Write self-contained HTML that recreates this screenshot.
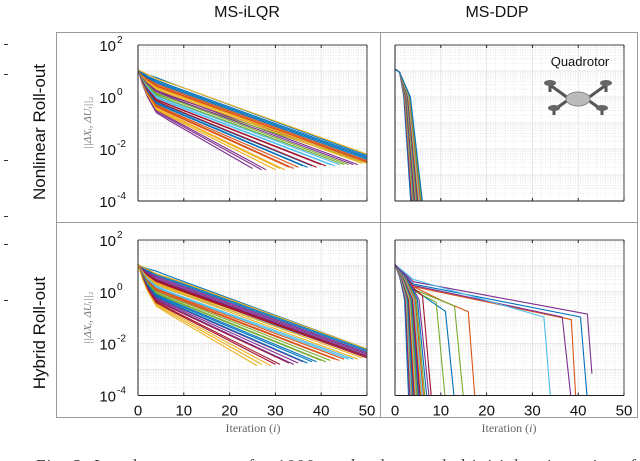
<!DOCTYPE html>
<html><head><meta charset="utf-8"><style>
html,body{margin:0;padding:0;background:#fff;}
svg{display:block;font-family:"Liberation Sans",sans-serif;}
</style></head><body>
<svg id="fig" width="640" height="461" viewBox="0 0 640 461" xmlns="http://www.w3.org/2000/svg">
<text x="247" y="17" font-size="16" text-anchor="middle" fill="#111">MS-iLQR</text>
<text x="497" y="17" font-size="16" text-anchor="middle" fill="#111">MS-DDP</text>
<text transform="translate(45,132) rotate(-90)" font-size="17" text-anchor="middle" fill="#111">Nonlinear Roll-out</text>
<text transform="translate(45,333) rotate(-90)" font-size="17" text-anchor="middle" fill="#111">Hybrid Roll-out</text>
<g fill="none" stroke="#9a9a9a" stroke-width="1">
<rect x="56.5" y="32.5" width="581" height="385"/>
<line x1="380.5" y1="32" x2="380.5" y2="418"/>
<line x1="56" y1="222.5" x2="638" y2="222.5"/>
</g>
<g stroke="#333" stroke-width="1">
<line x1="4" y1="44.5" x2="8" y2="44.5"/><line x1="4" y1="74.5" x2="8" y2="74.5"/>
<line x1="4" y1="160.5" x2="8" y2="160.5"/><line x1="4" y1="216.5" x2="8" y2="216.5"/>
<line x1="4" y1="244.5" x2="8" y2="244.5"/><line x1="4" y1="300.5" x2="8" y2="300.5"/>
</g>
<g id="panels"></g>
<text x="580" y="66" font-size="13" text-anchor="middle" fill="#111">Quadrotor</text>
<g transform="translate(578,98)">
<g stroke="#555" stroke-width="3" fill="none"><line x1="-28" y1="-13" x2="-10" y2="0"/><line x1="28" y1="-13" x2="10" y2="0"/><line x1="-24" y1="12" x2="-10" y2="2"/><line x1="24" y1="12" x2="10" y2="2"/>
<line x1="-28" y1="-13" x2="-28" y2="-6"/><line x1="28" y1="-13" x2="28" y2="-6"/><line x1="-24" y1="12" x2="-24" y2="17"/><line x1="24" y1="12" x2="24" y2="17"/></g>
<ellipse cx="-28" cy="-15" rx="6" ry="3" fill="#666"/><ellipse cx="28" cy="-15" rx="6" ry="3" fill="#666"/>
<ellipse cx="-24" cy="10" rx="6" ry="3" fill="#666"/><ellipse cx="24" cy="10" rx="6" ry="3" fill="#666"/>
<ellipse cx="0" cy="1" rx="12" ry="7" fill="#bbb" stroke="#888"/>
</g>
<text x="253" y="432" font-size="12" font-family="Liberation Serif,serif" text-anchor="middle" fill="#666">Iteration (<tspan font-style="italic">i</tspan>)</text>
<text x="509" y="432" font-size="12" font-family="Liberation Serif,serif" text-anchor="middle" fill="#666">Iteration (<tspan font-style="italic">i</tspan>)</text>
<text x="36" y="471" font-size="17" font-family="Liberation Serif,serif" fill="#333" textLength="600">Fig. 3: Local convergence for 1000 randomly sampled initial trajectories of</text>
</svg>
<script>
const xTicks=[0,10,20,30,40,50];
const yTickExp=[2,0,-2,-4];
const colors=['#0072BD','#D95319','#EDB120','#7E2F8E','#77AC30','#4DBEEE','#A2142F'];
// left panels: knee log-value at iteration 4, end iteration, end log-value
const TL_knee=[0.75,0.65,0.6,0.55,0.5,0.45,0.42,0.38,0.35,0.3,0.27,0.22,0.2,0.15,0.12,0.08,0.05,0.0,-0.03,-0.08,-0.1,-0.15,-0.18,-0.22,-0.25,-0.3,-0.33,-0.37,-0.4,-0.45,-0.48,-0.5,-0.55,-0.6];
const TL_end=[50,50,50,50,50,50,50,50,50,49,48,50,47,46,50,45,44,43,42,41,40,39,38,37,36,35,34,33,32,31,30,28,27,25];
const TL_endLog=[-2.25,-2.3,-2.35,-2.4,-2.45,-2.5,-2.5,-2.5,-2.55,-2.55,-2.6,-2.5,-2.6,-2.6,-2.55,-2.6,-2.6,-2.65,-2.6,-2.65,-2.6,-2.7,-2.65,-2.7,-2.65,-2.7,-2.75,-2.7,-2.8,-2.75,-2.8,-2.8,-2.8,-2.75];
const BL_knee=[0.8,0.7,0.65,0.6,0.55,0.5,0.47,0.43,0.4,0.35,0.32,0.28,0.25,0.2,0.17,0.13,0.1,0.05,0.02,-0.03,-0.06,-0.1,-0.14,-0.18,-0.22,-0.26,-0.3,-0.34,-0.38,-0.42,-0.46,-0.5,-0.55];
const BL_end=[50,50,50,50,50,50,50,50,50,50,49,48,50,47,46,45,44,43,42,41,40,39,38,37,36,35,34,33,31,30,29,27,26];
const BL_endLog=[-2.2,-2.25,-2.3,-2.35,-2.4,-2.45,-2.5,-2.5,-2.55,-2.5,-2.55,-2.6,-2.5,-2.6,-2.6,-2.6,-2.65,-2.6,-2.65,-2.7,-2.65,-2.7,-2.7,-2.75,-2.7,-2.75,-2.8,-2.75,-2.8,-2.8,-2.85,-2.8,-2.85];
// right top: end iteration where line leaves bottom
const TR_end=[3.5,3.7,3.8,3.9,4.0,4.1,4.2,4.3,4.4,4.5,4.6,4.7,4.8,4.9,5.0,5.1,5.2,5.3,5.5,5.7,5.9,6.1];
// right bottom bulk: end iteration
const BR_bulkEnd=[3.0,3.2,3.4,3.5,3.6,3.8,3.9,4.0,4.2,4.3,4.5,4.7,4.9,5.0,5.2,5.4,5.6,5.8,6.0,6.3,6.6,7.0,7.5];
// right bottom slow trajectories: [iteration, log10 value]
const BR_slow=[
 [[0,1.05],[4,0.39],[42,-0.86],[43,-3.16]],
 [[0,1.05],[4,0.3],[40.5,-0.97],[42,-4.2]],
 [[0,1.05],[4,0.2],[38.5,-1.07],[39.5,-4.2]],
 [[0,1.05],[4,0.25],[36.5,-0.97],[38.5,-4.2]],
 [[0,1.05],[4,0.48],[32.5,-0.97],[34,-4.2]],
 [[0,1.05],[4,0.2],[10,-0.32],[16,-0.77],[17.5,-4.2]],
 [[0,1.05],[4,0.1],[13,-0.55],[15,-4.2]],
 [[0,1.05],[4,0.1],[11,-0.75],[13,-4.2]],
 [[0,1.05],[4,0.05],[9,-0.4],[11,-4.2]],
 [[0,1.05],[3,0.3],[6,-0.15],[8,-4.2]]
];
const slowColors=['#7E2F8E','#0072BD','#D95319','#7E2F8E','#4DBEEE','#D95319','#77AC30','#0072BD','#77AC30','#A2142F'];

const NS='http://www.w3.org/2000/svg';
const root=document.getElementById('panels');
function mk(tag,attrs,parent){const e=document.createElementNS(NS,tag);for(const k in attrs)e.setAttribute(k,attrs[k]);(parent||root).appendChild(e);return e;}
const panels=[
 {id:'top-left',x0:138,x1:367,y0:45,y1:201,ylabels:true,xlabels:false},
 {id:'top-right',x0:395,x1:624,y0:45,y1:201,ylabels:false,xlabels:false},
 {id:'bottom-left',x0:138,x1:367,y0:240,y1:395.5,ylabels:true,xlabels:true},
 {id:'bottom-right',x0:395,x1:624,y0:240,y1:395.5,ylabels:false,xlabels:true}
];
function axes(p){return{x:i=>p.x0+i*(p.x1-p.x0)/50,y:l=>p.y0+(2-l)*(p.y1-p.y0)/6};}
function drawLine(g,ax,pts,color){
 const pl=mk('polyline',{points:pts.map(q=>ax.x(q[0]).toFixed(1)+','+ax.y(q[1]).toFixed(1)).join(' '),fill:'none',stroke:color,'stroke-width':'1.1','stroke-linejoin':'round'},g);
 
 
}
panels.forEach((p,pi)=>{
 const ax=axes(p);
 const g=mk('g',{});
 
 
 mk('rect',{x:p.x0,y:p.y0,width:p.x1-p.x0,height:p.y1-p.y0,fill:'#fff'},g);
 const grid=mk('g',{},g);
 
 
 for(let i=2;i<50;i+=2){if(i%10)mk('line',{x1:ax.x(i),x2:ax.x(i),y1:p.y0,y2:p.y1,stroke:'#dcdcdc','stroke-width':'0.6','stroke-dasharray':'1,1.5'},grid);}
 for(let d=-4;d<2;d++){for(let m=2;m<10;m++){const yy=ax.y(d+Math.log10(m));mk('line',{x1:p.x0,x2:p.x1,y1:yy,y2:yy,stroke:'#dcdcdc','stroke-width':'0.6','stroke-dasharray':'1,1.5'},grid);}}
 xTicks.forEach(t=>mk('line',{x1:ax.x(t),x2:ax.x(t),y1:p.y0,y2:p.y1,stroke:'#e2e2e2','stroke-width':'0.8'},grid));
 for(let d=-4;d<=2;d++)mk('line',{x1:p.x0,x2:p.x1,y1:ax.y(d),y2:ax.y(d),stroke:'#e2e2e2','stroke-width':'0.8'},grid);
 const cid='clip'+pi;
 const cp=mk('clipPath',{id:cid},g);mk('rect',{x:p.x0,y:p.y0,width:p.x1-p.x0,height:p.y1-p.y0},cp);
 const lg=mk('g',{'clip-path':'url(#'+cid+')'},g);
 
 
 if(pi===0||pi===2){
  const K=pi===0?TL_knee:BL_knee,E=pi===0?TL_end:BL_end,L=pi===0?TL_endLog:BL_endLog;
  const idx=K.map((_,i)=>i).sort((a,b)=>(a*11%K.length)-(b*11%K.length));
  idx.forEach((i,n)=>{
   const k=K[i];
   const mid=[2,1.05-(1.05-k)*0.62];
   const s=(L[i]-k)/(E[i]-4);
   drawLine(lg,ax,[[0,1.05],[1,1.05-(1.05-k)*0.35],mid,[4,k],[7,k+s*3.2],[E[i],L[i]]],colors[(i*3+n)%7]);
  });
  drawLine(lg,ax,[[0,1.05],[4,0.7],[10,0.35],[50,-2.2]],'#EDB120');
 }else if(pi===1){
  TR_end.forEach((e,n)=>drawLine(lg,ax,[[0,1.08],[1,0.95],[e*0.55,0.0],[e,-4.2]],colors[(n*3)%7]));
 }else{
  BR_slow.forEach((pts,n)=>drawLine(lg,ax,pts,slowColors[n]));
  BR_bulkEnd.forEach((e,n)=>drawLine(lg,ax,[[0,1.05],[e*0.35,0.55],[e*0.7,-0.3],[e,-4.2]],colors[(n*3)%7]));
 }
 const fr=mk('g',{stroke:'#222','stroke-width':'1',fill:'none'},g);
 
 
 mk('line',{x1:p.x0,x2:p.x0,y1:p.y0,y2:p.y1},fr);
 mk('line',{x1:p.x0,x2:p.x1,y1:p.y1,y2:p.y1},fr);
 mk('line',{x1:p.x0,x2:p.x1,y1:p.y0,y2:p.y0,stroke:'#444'},fr);
 mk('line',{x1:p.x1,x2:p.x1,y1:p.y0,y2:p.y1,stroke:'#444'},fr);
 xTicks.forEach(t=>{mk('line',{x1:ax.x(t),x2:ax.x(t),y1:p.y1,y2:p.y1-3},fr);mk('line',{x1:ax.x(t),x2:ax.x(t),y1:p.y0,y2:p.y0+3},fr);});
 if(p.xlabels){xTicks.forEach(t=>{const tx=mk('text',{x:ax.x(t),y:p.y1+20,'font-size':'15','text-anchor':'middle',fill:'#111'},g);tx.textContent=String(t);});}
 if(p.ylabels){yTickExp.forEach(e=>{const tx=mk('text',{x:p.x0-22,y:ax.y(e)+6,'font-size':'15','text-anchor':'end',fill:'#111'},g);tx.textContent='10';const sp=mk('text',{x:p.x0-21,y:ax.y(e)-2,'font-size':'10','text-anchor':'start',fill:'#111'},g);sp.textContent=String(e);});
  const yl=mk('text',{transform:'translate('+(p.x0-47)+','+((p.y0+p.y1)/2)+') rotate(-90)','font-size':'11','text-anchor':'middle',fill:'#777','font-family':'Liberation Serif,serif','font-style':'italic'},g);
  yl.textContent='||ΔXᵢ, ΔUᵢ||₂';
  
  
 }
});
</script>
</body></html>
